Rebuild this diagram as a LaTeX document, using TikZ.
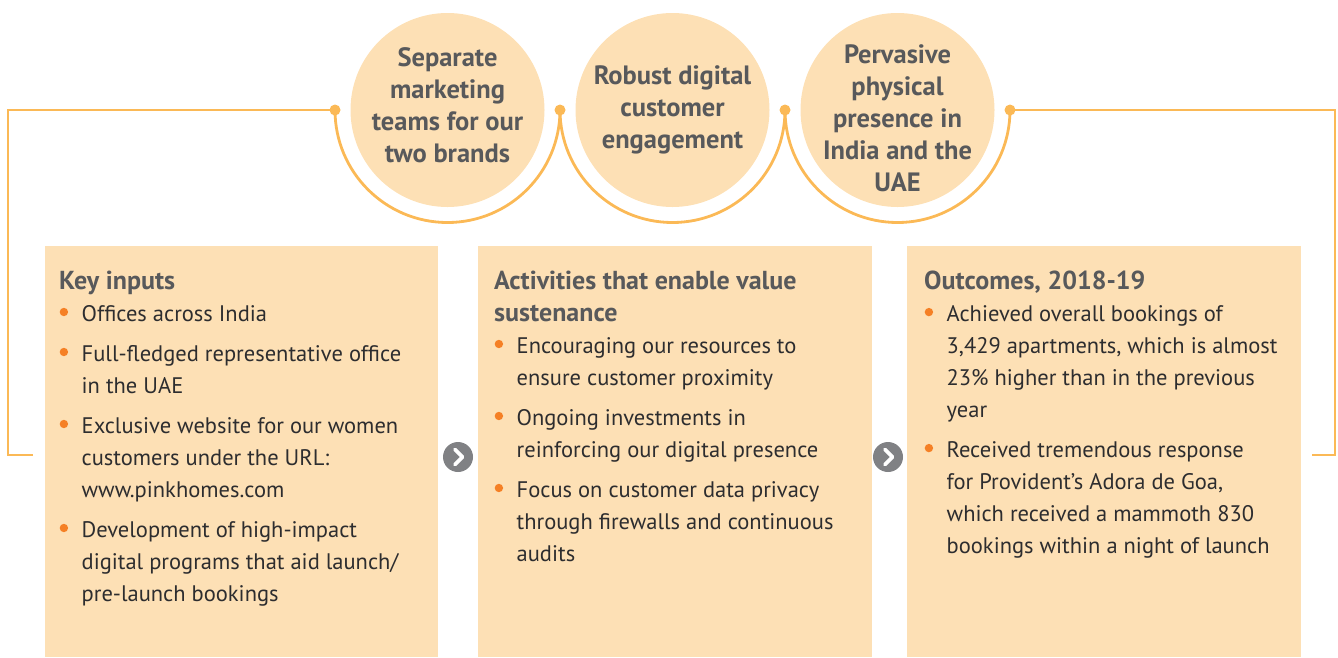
\documentclass[tikz,border=0pt]{standalone}
\usepackage{fontspec}
\setmainfont{PT Sans}
\usetikzlibrary{positioning}
\definecolor{peach}{RGB}{253,224,181}
\definecolor{lineorange}{RGB}{251,185,86}
\definecolor{dotorange}{RGB}{245,128,37}
\definecolor{headgrey}{RGB}{88,89,91}
\definecolor{bodygrey}{RGB}{45,45,47}
\definecolor{chevgrey}{RGB}{128,129,132}
\newcommand\bul{\makebox[22.5pt][l]{\hspace*{0.5pt}\textcolor{dotorange}{\raisebox{5.5pt}{\rule{0pt}{0pt}\tikz\fill (0,0) circle (4.2pt);}}}}
\newcommand\ind{\hspace*{22.5pt}}
\tikzset{
  topic/.style={circle,fill=peach,minimum size=194pt,inner sep=0pt},
  topictext/.style={align=center,text=headgrey,inner sep=0pt,
    font=\bfseries\fontsize{26.5}{32}\selectfont},
  paneltext/.style={anchor=north west,inner sep=0pt,align=left,text=bodygrey,
    font=\fontsize{22.5}{32}\selectfont},
  link/.style={lineorange,line width=2.8pt},
  joint/.style={circle,fill=lineorange,minimum size=11pt,inner sep=0pt},
  nextstep/.style={circle,fill=chevgrey,minimum size=30pt,inner sep=0pt}
}
\newcommand\head[1]{{\color{headgrey}\bfseries\fontsize{26}{32}\selectfont #1}}
\begin{document}
\begin{tikzpicture}[x=1pt,y=-1pt]
\useasboundingbox (0,0) rectangle (1338,657);
% panels
\fill[peach] (45,246) rectangle (438,657);
\fill[peach] (478,246) rectangle (872,657);
\fill[peach] (907,246) rectangle (1301,657);
% topic circles
\node[topic] (c1) at (447.5,110) {};
\node[topic] (c2) at (672.5,110) {};
\node[topic] (c3) at (897.5,110) {};
\node[topictext] (c1t) at ([yshift=5pt]c1.center) {Separate\\marketing\\teams for our\\two brands};
\node[topictext] (c2t) at (c2.center) {Robust digital\\customer\\engagement};
\node[topictext] (c3t) at ([yshift=-8pt]c3.center) {Pervasive\\physical\\presence in\\India and the\\UAE};
% joints
\coordinate (j0) at (335,110);
\coordinate (j1) at (560,110);
\coordinate (j2) at (785,110);
\coordinate (j3) at (1010,110);
\coordinate (l1) at (8,110);
\coordinate (l2) at (8,455);
\coordinate (l3) at (33,455);
\coordinate (r1) at (1335,110);
\coordinate (r2) at (1335,455);
\coordinate (r3) at (1312,455);
\draw[link] (l3) -- (l2) -- (l1) -- (j0);
\draw[link] (j3) -- (r1) -- (r2) -- (r3);
\draw[link] (j0) arc[start angle=180,end angle=0,radius=112.5];
\draw[link] (j1) arc[start angle=180,end angle=0,radius=112.5];
\draw[link] (j2) arc[start angle=180,end angle=0,radius=112.5];
\foreach \j in {j0,j1,j2,j3}
  \node[joint] at (\j) {};
% next-step icons
\node[nextstep] (n1) at (458,457) {};
\node[nextstep] (n2) at (888,457) {};
\foreach \n in {n1,n2}
  \draw[white,line width=3.8pt,line cap=round,line join=round]
    ([xshift=-3pt,yshift=7.5pt]\n.center) -- ([xshift=4.5pt]\n.center) -- ([xshift=-3pt,yshift=-7.5pt]\n.center);
% Text Node
\node[paneltext] (t1) at (59,271) {\head{Key inputs}\\
\bul Offices across India\\[8pt]
\bul Full-fledged representative office\\
\ind in the UAE\\[8pt]
\bul Exclusive website for our women\\
\ind customers under the URL:\\
\ind www.pinkhomes.com\\[8pt]
\bul Development of high-impact\\
\ind digital programs that aid launch/\\
\ind pre-launch bookings};
% Text Node
\node[paneltext] (t2) at (494,271) {\head{Activities that enable value}\\
\head{sustenance}\\
\bul Encouraging our resources to\\
\ind ensure customer proximity\\[8pt]
\bul Ongoing investments in\\
\ind reinforcing our digital presence\\[8pt]
\bul Focus on customer data privacy\\
\ind through firewalls and continuous\\
\ind audits};
% Text Node
\node[paneltext] (t3) at (924,271) {\head{Outcomes, 2018-19}\\
\bul Achieved overall bookings of\\
\ind 3,429 apartments, which is almost\\
\ind 23\% higher than in the previous\\
\ind year\\[8pt]
\bul Received tremendous response\\
\ind for Provident’s Adora de Goa,\\
\ind which received a mammoth 830\\
\ind bookings within a night of launch};
\end{tikzpicture}
\end{document}
